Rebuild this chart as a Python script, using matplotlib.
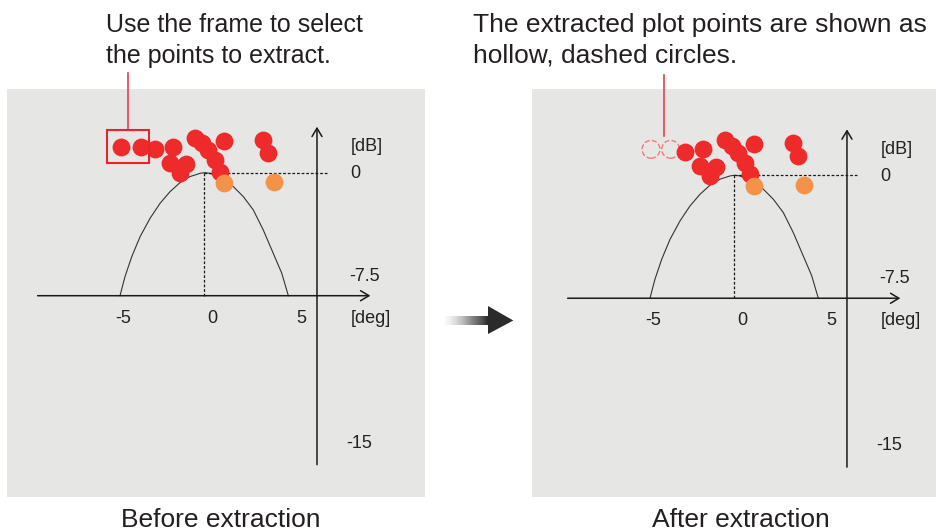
import numpy as np
import matplotlib
matplotlib.use('Agg')
import matplotlib.pyplot as plt
from matplotlib.patches import Rectangle, Polygon

plt.rcParams['font.family'] = ['Liberation Sans', 'DejaVu Sans']

# beam curve (deg, dB)
curve_deg = [-5.17, -4.89, -4.51, -4.04, -3.48, -2.92, -2.36, -1.80, -1.24, -0.67,
             -0.43, -0.11, 0.63, 1.20, 1.76, 2.32, 2.88, 3.44, 3.92, 4.29]
curve_db = [-7.5, -6.34, -5.12, -3.90, -2.78, -1.87, -1.16, -0.61, -0.24, -0.04,
            0.0, -0.04, -0.45, -0.85, -1.46, -2.27, -3.49, -4.91, -6.13, -7.5]

# plot points (deg, dB)
sel_deg = [-5.11, -4.01]
sel_db = [1.58, 1.58]
red_deg = [-3.20, -2.21, -0.96, -0.58, -0.21, 0.67, 0.17, 0.45, -2.36, -1.46, -1.80, 2.88, 3.13]
red_db = [1.44, 1.58, 2.13, 1.79, 1.38, 1.93, 0.77, 0.06, 0.57, 0.51, -0.04, 1.98, 1.18]
orange_deg = [0.67, 3.48]
orange_db = [-0.65, -0.59]

peak_deg = -0.43
xticks = [-5, 0, 5]
ytick_labels = ['0', '-7.5', '-15']

RED = '#ee2a2a'
ORANGE = '#f5924a'
BG = '#e6e6e5'
INK = '#1a1a1a'
DOT = 165

fig = plt.figure(figsize=(9.36, 5.31), dpi=100)
W, H = 936, 531


def panel(left_px, xlim, ylim, extracted):
    ax = fig.add_axes([left_px / W, (H - 497) / H, 418 / W, 408 / H])
    ax.set_facecolor(BG)
    ax.set_xlim(*xlim)
    ax.set_ylim(*ylim)
    ax.set_xticks([])
    ax.set_yticks([])
    for s in ax.spines.values():
        s.set_visible(False)

    # axes with arrows
    ax.annotate('', xy=(8.9, -7.5), xytext=(-9.8, -7.5),
                arrowprops=dict(arrowstyle='->,head_length=0.5,head_width=0.3',
                                lw=1.1, color=INK, mutation_scale=12, shrinkA=0, shrinkB=0))
    ax.annotate('', xy=(5.9, 2.8), xytext=(5.9, -17.8),
                arrowprops=dict(arrowstyle='->,head_length=0.5,head_width=0.3',
                                lw=1.1, color=INK, mutation_scale=12, shrinkA=0, shrinkB=0))

    # beam and guides
    ax.plot(curve_deg, curve_db, color='#333333', lw=0.8)
    ax.plot([peak_deg, 6.5], [0, 0], color=INK, lw=0.9, dashes=(2.2, 1.5))
    ax.plot([peak_deg, peak_deg], [0, -7.5], color=INK, lw=0.9, dashes=(2.2, 1.5))

    # labels
    for t in xticks:
        ax.text(t, -8.86, str(t), ha='center', va='center', fontsize=13, color='#222222')
    ax.text(7.8, -8.86, '[deg]', ha='left', va='center', fontsize=13, color='#222222')
    ax.text(7.8, 1.57, '[dB]', ha='left', va='center', fontsize=13, color='#222222')
    for lab, yp, xp in zip(ytick_labels, [-0.08, -6.3, -16.48], [7.75, 7.7, 7.55]):
        ax.text(xp, yp, lab, ha='left', va='center', fontsize=13, color='#222222')

    # points
    if extracted:
        ax.scatter(sel_deg, sel_db, s=DOT, facecolors='none', edgecolors='#f07a7a',
                   linewidths=1.0, linestyles='--', zorder=5)
    else:
        ax.scatter(sel_deg, sel_db, s=DOT, c=RED, linewidths=0, zorder=5)
    ax.scatter(red_deg, red_db, s=DOT, c=RED, linewidths=0, zorder=5)
    ax.scatter(orange_deg, orange_db, s=DOT, c=ORANGE, linewidths=0, zorder=6)
    return ax


ax1 = panel(7, (-11.52, 11.97), (-19.77, 5.10), False)
ax1.add_patch(Rectangle((-5.92, 0.57), 2.38, 2.03, fill=False, ec='#e8242b', lw=1.5, zorder=7))
ax1.plot([-4.72, -4.72], [2.60, 6.08], color='#e8404a', lw=1.2, clip_on=False)

ax2 = panel(532, (-11.80, 11.69), (-19.62, 5.26), True)
ax2.plot([-4.37, -4.37], [2.37, 6.11], color='#e8404a', lw=1.2, clip_on=False)

# overlay in pixel coords for captions and the big arrow
ov = fig.add_axes([0, 0, 1, 1], zorder=10)
ov.set_axis_off()

ov.text(106, 31.7, 'Use the frame to select', fontsize=18, color='#231f20', va='baseline')
ov.text(106, 63.3, 'the points to extract.', fontsize=18, color='#231f20', va='baseline')
ov.text(472.7, 31.7, 'The extracted plot points are shown as', fontsize=19, color='#231f20', va='baseline')
ov.text(472.7, 62.7, 'hollow, dashed circles.', fontsize=19, color='#231f20', va='baseline')

ov.text(220.5, 526.7, 'Before extraction', fontsize=19, color='#231f20', ha='center', va='baseline')
ov.text(740.5, 526.7, 'After extraction', fontsize=19, color='#231f20', ha='center', va='baseline')

grad = np.linspace(0, 1, 64).reshape(1, -1)
ov.imshow(grad, extent=(445, 489, 325, 316.7), cmap='Greys', vmin=-0.05, vmax=1.15,
          aspect='auto', interpolation='bilinear')
ov.add_patch(Polygon([[488, 306], [513.3, 320.5], [488, 334]], closed=True,
                     fc='#2b2b2b', ec='none'))
ov.set_xlim(0, W)
ov.set_ylim(H, 0)

fig.savefig('out.png', dpi=100)
